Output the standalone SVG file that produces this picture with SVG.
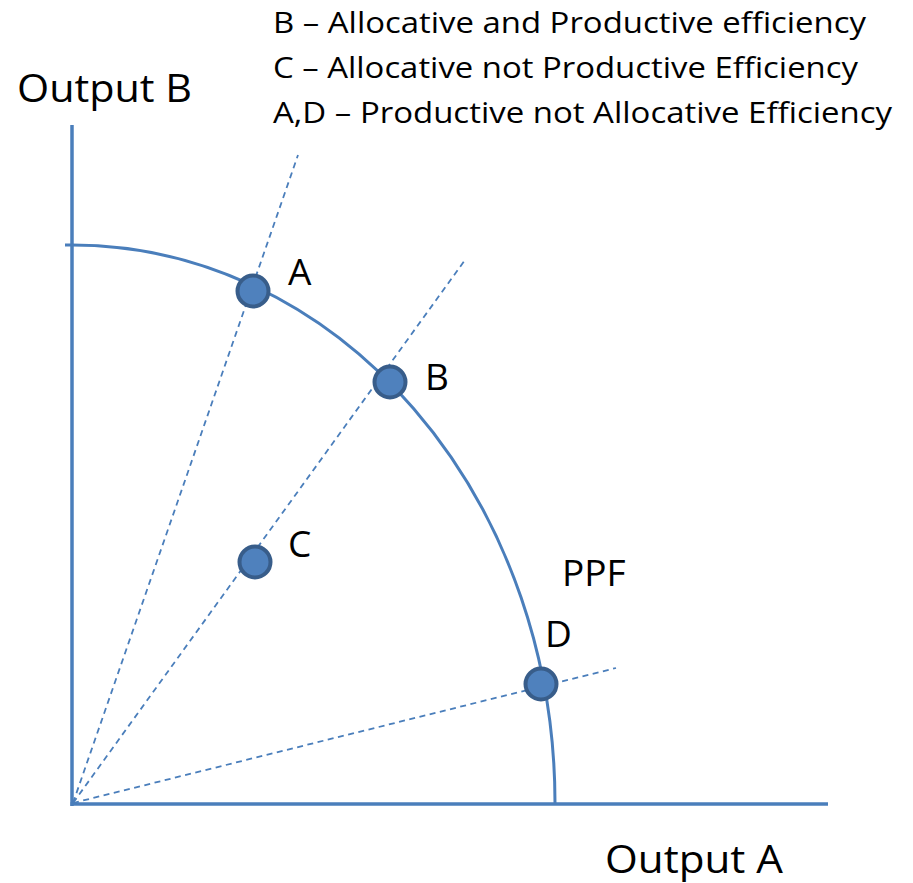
<svg xmlns="http://www.w3.org/2000/svg" width="913" height="883" viewBox="0 0 913 883">
<style>
.axis{stroke:#4A7EBB;stroke-width:3.5;fill:none}
.ppf{stroke:#4A7EBB;stroke-width:3;fill:none}
.dash{stroke:#4A7EBB;stroke-width:1.8;stroke-dasharray:6 4.5;fill:none}
.pt{fill:#4F81BD;stroke:#385D8A;stroke-width:4}
text{font-family:"Open Sans","Noto Sans","Liberation Sans",sans-serif;fill:#000}
.lg{font-size:29.5px}
.ax{font-size:38.5px}
.lb{font-size:37px}
</style>
<rect width="913" height="883" fill="#fff"/>
<g id="legend">
<text class="lg" x="273" y="33" textLength="593" lengthAdjust="spacingAndGlyphs">B – Allocative and Productive efficiency</text>
<text class="lg" x="273" y="78" textLength="585" lengthAdjust="spacingAndGlyphs">C – Allocative not Productive Efficiency</text>
<text class="lg" x="273" y="123" textLength="619" lengthAdjust="spacingAndGlyphs">A,D – Productive not Allocative Efficiency</text>
</g>
<g id="axes">
<line class="axis" x1="72" y1="125" x2="72" y2="806"/>
<line class="axis" x1="70.5" y1="804" x2="828" y2="804"/>
<text id="label-output-b" class="ax" x="17" y="102" textLength="175" lengthAdjust="spacingAndGlyphs">Output B</text>
<text id="label-output-a" class="ax" x="605" y="873" textLength="178" lengthAdjust="spacingAndGlyphs">Output A</text>
</g>
<g id="connectors">
<line class="dash" x1="73" y1="803" x2="298" y2="155"/>
<line class="dash" x1="73" y1="803" x2="465" y2="260"/>
<line class="dash" x1="73" y1="803" x2="616" y2="668"/>
</g>
<g id="ppf">
<path class="ppf" d="M65,245 L72,245 A483,558 0 0 1 555,803"/>
<text class="lb" x="562" y="586">PPF</text>
</g>
<g id="point-a">
<circle class="pt" cx="253" cy="291" r="15.5"/>
<text class="lb" x="288" y="285">A</text>
</g>
<g id="point-b">
<circle class="pt" cx="390" cy="382" r="15.5"/>
<text class="lb" x="425" y="390">B</text>
</g>
<g id="point-c">
<circle class="pt" cx="255" cy="562" r="15.5"/>
<text class="lb" x="288" y="557">C</text>
</g>
<g id="point-d">
<circle class="pt" cx="541" cy="684" r="15.5"/>
<text class="lb" x="545" y="647">D</text>
</g>
</svg>
